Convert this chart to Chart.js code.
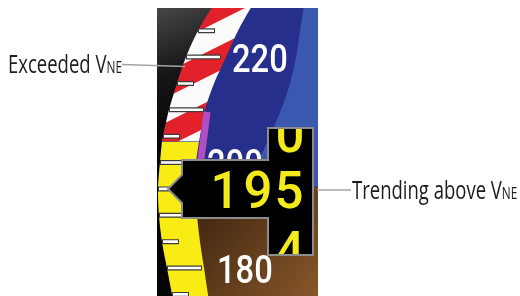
<!DOCTYPE html>
<html>
<head>
<meta charset="utf-8">
<script src="https://cdn.jsdelivr.net/npm/chart.js@4.4.1/dist/chart.umd.min.js"></script>
<style>
  html, body { margin: 0; padding: 0; background: #fff; }
  #wrap { position: relative; width: 520px; height: 296px; overflow: hidden; }
  #wrap canvas, #wrap svg { position: absolute; left: 0; top: 0; }
  .callout {
    position: absolute; white-space: nowrap; color: #1c1c1c;
    font-family: "Open Sans", sans-serif; font-size: 25px; line-height: 25px;
    transform: scaleX(0.74); transform-origin: 0 0;
  }
  .callout small { font-size: 16px; }
</style>
</head>
<body>
<div id="wrap">
  <canvas id="tape" width="520" height="296"></canvas>
  <svg width="520" height="296">
    <line x1="122" y1="64.5" x2="185" y2="66.5" stroke="#a4a4a4" stroke-width="1.6"/>
    <line x1="317" y1="190" x2="351" y2="190" stroke="#a4a4a4" stroke-width="1.6"/>
  </svg>
  <div class="callout" style="left:8px;top:51px">Exceeded V<small>NE</small></div>
  <div class="callout" style="left:352px;top:177px">Trending above V<small>NE</small></div>
</div>
<script>
// airspeed values (knots)
const tickSpeeds = [175, 180, 185, 190, 195, 200, 205, 210, 215, 220, 225];
const labelSpeeds = [180, 200, 220];
const indicatedSpeed = 195;
const drumAbove = '0';
const drumBelow = '4';
const vneSpeed = 204;
const trendTop = 209.6;

// curved tape outline (speed -> x pixel)
const edgeSpeeds = [231, 230, 225, 220, 215, 210, 205, 204, 200, 195, 190, 185, 180, 175, 174];
const outerEdge = [219, 214, 198, 186, 177, 169, 163, 162, 160, 158, 159, 162, 167, 172, 173];
const innerEdge = [257, 253, 238, 226, 214, 205, 200, 199, 196, 195, 197, 200, 204, 208, 209];
const skySpeeds = [231, 225, 220, 215, 210, 205, 200, 195.4];
const skyEdge = [305, 300, 296, 290, 281, 270, 258, 250];
const trendSpeeds = [197, 200, 205, trendTop];
const trendEdge = [199.5, 200.5, 204, 207];

const horizonY = 187;
const labelX = { 180: 217, 200: 207, 220: 232 };

function edgePts(arr, keep) {
  return edgeSpeeds.map((s, i) => ({ x: arr[i], y: s })).filter(p => keep(p.y));
}

function tickPts(inset) {
  const out = [];
  tickSpeeds.forEach(s => {
    const x0 = outerEdge[edgeSpeeds.indexOf(s)];
    const len = s % 10 === 0 ? 35 : 17;
    out.push({ x: x0 + inset, y: s }, { x: x0 + len - inset, y: s }, { x: null, y: s });
  });
  return out;
}

function stripes(ctx) {
  const c = document.createElement('canvas');
  c.width = 100; c.height = 50;
  const p = c.getContext('2d');
  p.fillStyle = '#fbfbfb';
  p.fillRect(0, 0, 100, 50);
  p.fillStyle = '#e3212b';
  [-50, 0, 50, 100].forEach(y0 => {
    p.beginPath();
    p.moveTo(0, y0 + 5.5);
    p.lineTo(100, y0 - 44.5);
    p.lineTo(100, y0 - 19.5);
    p.lineTo(0, y0 + 30.5);
    p.closePath();
    p.fill();
  });
  return ctx.createPattern(c, 'repeat');
}

function darkSide(ctx) {
  const g = ctx.createLinearGradient(157, 8, 205, 130);
  g.addColorStop(0, '#474747');
  g.addColorStop(0.5, '#161616');
  g.addColorStop(1, '#050505');
  return g;
}

const fillOnly = { borderColor: 'transparent', borderWidth: 0, pointRadius: 0, tension: 0.3 };

const panelPlugin = {
  id: 'panel',
  beforeDatasetsDraw(chart) {
    const { ctx, chartArea: a } = chart;
    ctx.save();
    ctx.fillStyle = '#262f8c';
    ctx.fillRect(a.left, a.top, a.width, horizonY - a.top);
    const g = ctx.createLinearGradient(215, 210, 318, 296);
    g.addColorStop(0, '#472b12');
    g.addColorStop(1, '#87572a');
    ctx.fillStyle = g;
    ctx.fillRect(a.left, horizonY, a.width, a.bottom - horizonY);
    ctx.restore();
  },
  afterDatasetsDraw(chart) {
    const { ctx, chartArea: a } = chart;
    const ys = chart.scales.y;
    ctx.save();
    ctx.beginPath();
    ctx.rect(a.left, a.top, a.width, a.height);
    ctx.clip();

    // scale labels
    ctx.fillStyle = '#ffffff';
    ctx.font = '500 38px Roboto';
    ctx.textAlign = 'left';
    ctx.textBaseline = 'alphabetic';
    labelSpeeds.forEach(s => {
      ctx.save();
      ctx.translate(labelX[s], ys.getPixelForValue(s) + 14.5);
      ctx.scale(0.86, 1);
      ctx.fillText(String(s), 0, 0);
      ctx.restore();
    });

    // readout box with pointer and drum window
    const yc = ys.getPixelForValue(indicatedSpeed);
    ctx.beginPath();
    ctx.moveTo(182, yc - 14);
    ctx.lineTo(182, yc - 29);
    ctx.lineTo(268, yc - 29);
    ctx.lineTo(268, yc - 61);
    ctx.lineTo(313, yc - 61);
    ctx.lineTo(313, yc + 66);
    ctx.lineTo(268, yc + 66);
    ctx.lineTo(268, yc + 29);
    ctx.lineTo(182, yc + 29);
    ctx.lineTo(182, yc + 14);
    ctx.lineTo(168, yc);
    ctx.closePath();
    ctx.fillStyle = '#000';
    ctx.fill();
    ctx.lineWidth = 2;
    ctx.strokeStyle = '#8c8c8c';
    ctx.stroke();

    const digits = String(indicatedSpeed);
    ctx.fillStyle = '#f2ea1a';
    ctx.font = '500 51px Roboto';
    ctx.textAlign = 'center';
    ctx.fillText(digits[0], 225, yc + 19);
    ctx.fillText(digits[1], 258, yc + 19);
    ctx.fillText(digits[2], 289, yc + 19);

    ctx.save();
    ctx.beginPath();
    ctx.rect(269, yc - 60, 43, 125);
    ctx.clip();
    ctx.fillText(drumAbove, 290, yc - 37);
    ctx.fillText(drumBelow, 290, yc + 79);
    ctx.restore();

    ctx.restore();
  }
};

new Chart(document.getElementById('tape'), {
  type: 'line',
  data: {
    datasets: [
      { // lighter sky at the right
        data: skySpeeds.map((s, i) => ({ x: skyEdge[i], y: s })),
        ...fillOnly, fill: { value: 318 }, backgroundColor: '#3b58b0', order: 9
      },
      { // dark side left of the tape
        data: edgePts(outerEdge, () => true),
        ...fillOnly, fill: { value: 157 }, backgroundColor: c => darkSide(c.chart.ctx), order: 8
      },
      { // yellow caution band
        data: edgePts(outerEdge, s => s <= vneSpeed),
        ...fillOnly, fill: '+1', backgroundColor: '#f8ec14', order: 7
      },
      { data: edgePts(innerEdge, s => s <= vneSpeed), ...fillOnly, fill: false, order: 7 },
      { // red / white band above VNE
        data: edgePts(outerEdge, s => s >= vneSpeed),
        ...fillOnly, fill: '+1', backgroundColor: c => stripes(c.chart.ctx), order: 6
      },
      { data: edgePts(innerEdge, s => s >= vneSpeed), ...fillOnly, fill: false, order: 6 },
      { // magenta trend
        data: trendSpeeds.map((s, i) => ({ x: trendEdge[i], y: s })),
        borderColor: '#b04ec2', borderWidth: 7, borderCapStyle: 'butt',
        pointRadius: 0, tension: 0.2, fill: false, order: 5
      },
      { // tick outline
        data: tickPts(0), borderColor: '#3c3c3c', borderWidth: 5, borderCapStyle: 'butt',
        pointRadius: 0, tension: 0, spanGaps: false, fill: false, order: 4
      },
      { // tick face
        data: tickPts(1), borderColor: '#ffffff', borderWidth: 2.6, borderCapStyle: 'butt',
        pointRadius: 0, tension: 0, spanGaps: false, fill: false, order: 3
      }
    ]
  },
  options: {
    indexAxis: 'y',
    responsive: false,
    animation: false,
    layout: { padding: { left: 157, right: 202, top: 8, bottom: 0 } },
    scales: {
      x: { type: 'linear', min: 157, max: 318, display: false },
      y: { type: 'linear', min: 174.7, max: 229.3, display: false }
    },
    plugins: {
      legend: { display: false },
      tooltip: { enabled: false }
    }
  },
  plugins: [panelPlugin]
});
</script>
</body>
</html>
